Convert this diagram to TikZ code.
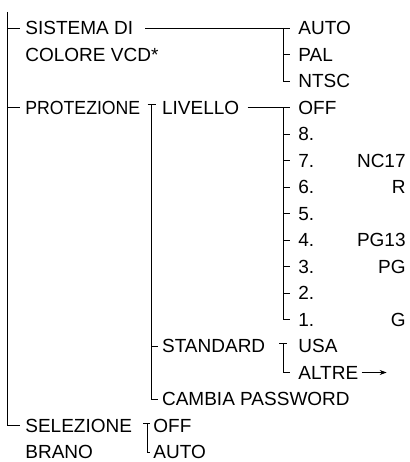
\documentclass[tikz,border=0pt]{standalone}
\usepackage{fontspec}
\setmainfont{Liberation Sans}
\usetikzlibrary{arrows.meta}

\newcommand{\rowy}[1]{28+26.5*#1}

\begin{document}
\begin{tikzpicture}[
        x=1pt, y=-1pt,
        line width=0.8pt,
        every node/.style={anchor=west, inner sep=0pt, font=\fontsize{19}{22}\selectfont,
            text height=13.4pt, text depth=0pt},
        rating/.style={anchor=east}
    ]
    \useasboundingbox (0,0) rectangle (409,462);

    \node (sys)   at (25,{\rowy{0}})   {SISTEMA DI};
    \node (col)   at (25,{\rowy{1}})   {COLORE VCD*};
    \node (prot)  at (25,{\rowy{3}})   {\scalebox{0.93}[1]{PROTEZIONE}};
    \node (selA)  at (25,{\rowy{15}})  {SELEZIONE};
    \node (selB)  at (25,{\rowy{16}})  {BRANO};

    \node (auto)  at (298,{\rowy{0}})  {AUTO};
    \node (pal)   at (298,{\rowy{1}})  {PAL};
    \node (ntsc)  at (298,{\rowy{2}})  {NTSC};

    \node (liv)   at (161.7,{\rowy{3}})  {LIVELLO};
    \node (std)   at (161.7,{\rowy{12}}) {STANDARD};
    \node (pwd)   at (161.7,{\rowy{14}}) {CAMBIA PASSWORD};

    \node (off)   at (298,{\rowy{3}})  {OFF};
    \foreach \k in {8,...,1}
        \node (lev\k) at (298,{\rowy{(12-\k)}}) {\k.};

    \node[rating] (nc)   at (406,{\rowy{5}})  {NC17};
    \node[rating] (rr)   at (406,{\rowy{6}})  {R};
    \node[rating] (pgt)  at (406,{\rowy{8}})  {PG13};
    \node[rating] (pg)   at (406,{\rowy{9}})  {PG};
    \node[rating] (gg)   at (406,{\rowy{11}}) {G};

    \node (usa)   at (298,{\rowy{12}}) {USA};
    \node (altre) at (298,{\rowy{13}}) {ALTRE};

    \node (soff)  at (153,{\rowy{15}}) {OFF};
    \node (sauto) at (153,{\rowy{16}}) {AUTO};

    \coordinate (top) at (7,12);
    \draw (top) |- ([xshift=-5pt]selA.west);
    \foreach \n in {sys,prot}
        \draw (top |- \n.west) -- ([xshift=-5pt]\n.west);

    \draw ([xshift=12pt]sys.east) -- ([xshift=-8pt]auto.west);
    \draw ([xshift=-15pt]auto.west) |- ([xshift=-8pt]ntsc.west);
    \draw ([xshift=-15pt]pal.west) -- ([xshift=-8pt]pal.west);

    \draw ([xshift=-14pt,yshift=3pt]liv.west) -- ([xshift=-6pt,yshift=3pt]liv.west);
    \draw ([xshift=-10pt,yshift=3pt]liv.west) |- ([xshift=-4pt]pwd.west);
    \draw ([xshift=-10pt]std.west) -- ([xshift=-4pt]std.west);

    \draw ([xshift=8pt]liv.east) -- ([xshift=-8pt]off.west);
    \draw ([xshift=-15pt]off.west) |- ([xshift=-8pt]lev1.west);
    \foreach \k in {8,...,2}
        \draw ([xshift=-15pt]lev\k.west) -- ([xshift=-8pt]lev\k.west);

    \draw ([xshift=-19pt,yshift=3pt]usa.west) -- ([xshift=-11pt,yshift=3pt]usa.west);
    \draw ([xshift=-15pt,yshift=3pt]usa.west) |- ([xshift=-8pt]altre.west);
    \draw[-{Stealth[length=7pt,width=5pt]}] ([xshift=3pt]altre.east) -- ([xshift=28pt]altre.east);

    \draw ([xshift=-10pt,yshift=2pt]soff.west) -- ([xshift=-3pt,yshift=2pt]soff.west);
    \draw ([xshift=-6pt,yshift=2pt]soff.west) |- ([xshift=-3pt]sauto.west);

\end{tikzpicture}
\end{document}
